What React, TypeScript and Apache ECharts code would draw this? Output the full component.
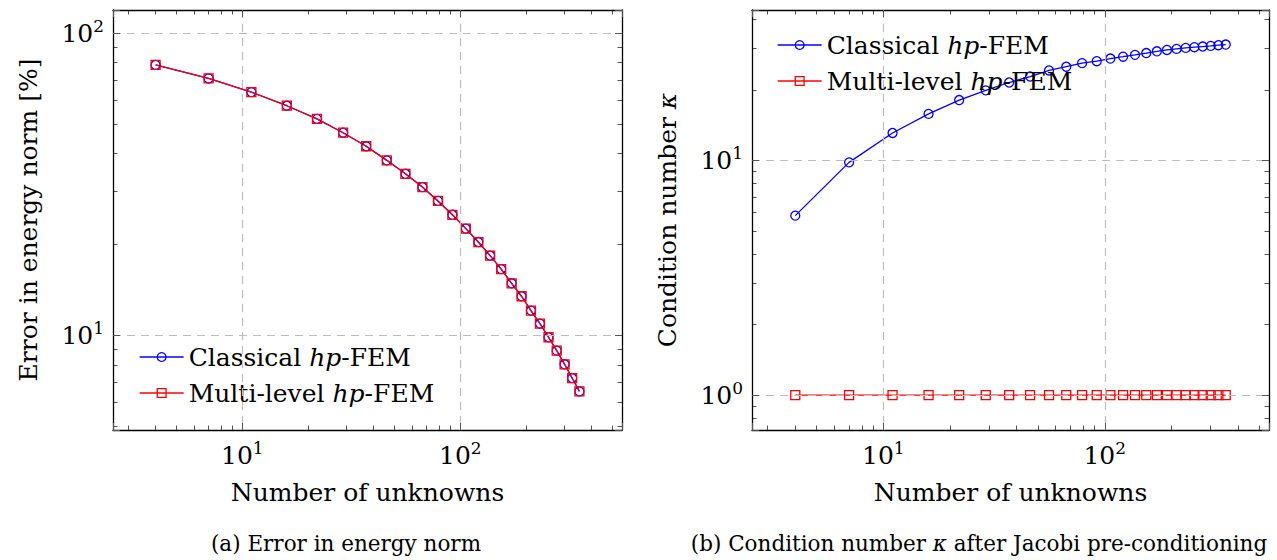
import React, { useEffect, useRef } from 'react';
import * as echarts from 'echarts';

// ---- data ----
const unknowns = [4, 7, 11, 16, 22, 29, 37, 46, 56, 67, 79, 92, 106, 121, 137, 154, 172, 191, 211, 232, 254, 277, 301, 326, 352];
const errorClassical = [78.6, 70.9, 63.9, 57.6, 52.1, 46.9, 42.3, 38.0, 34.3, 31.0, 27.9, 25.1, 22.6, 20.4, 18.4, 16.6, 14.9, 13.5, 12.1, 10.96, 9.88, 8.92, 8.04, 7.24, 6.54];
const errorMultilevel = [78.6, 70.9, 63.9, 57.6, 52.1, 46.9, 42.3, 38.0, 34.3, 31.0, 27.9, 25.1, 22.6, 20.4, 18.4, 16.6, 14.9, 13.5, 12.1, 10.96, 9.88, 8.92, 8.04, 7.24, 6.54];
const condClassical = [5.82, 9.82, 13.1, 15.8, 18.1, 19.9, 21.5, 22.8, 24.2, 25.1, 26.0, 26.5, 27.2, 27.7, 28.2, 28.7, 29.2, 29.6, 29.9, 30.2, 30.4, 30.6, 30.8, 31.0, 31.2];
const condMultilevel = [1, 1, 1, 1, 1, 1, 1, 1, 1, 1, 1, 1, 1, 1, 1, 1, 1, 1, 1, 1, 1, 1, 1, 1, 1];

const seriesNames = ['Classical hp-FEM', 'Multi-level hp-FEM'];
const xMinorTicks = [3, 4, 5, 6, 7, 8, 9, 20, 30, 40, 50, 60, 70, 80, 90, 200, 300, 400, 500];
const errMinorTicks = [5, 6, 7, 8, 9, 20, 30, 40, 50, 60, 70, 80, 90];
const condMinorTicks = [0.8, 0.9, 2, 3, 4, 5, 6, 7, 8, 9, 20, 30, 40];

const xRange = [2.55, 552];
const errRange = [4.875, 119.4];
const condRange = [0.71, 43.8];

const FONT = '"DejaVu Serif", serif';
const FS = 25;
const LFS = 25;
const CFS = 21.5;
const BLUE = '#0000ff';
const RED = '#ff0000';

function supLabel(v: number) {
  const e = Math.log10(v);
  const r = Math.round(e);
  if (Math.abs(e - r) > 1e-6) return '';
  return `{b|10}{s|${r}}`;
}

const labelRich = {
  b: { fontFamily: FONT, fontSize: FS, color: '#000', lineHeight: 32 },
  s: { fontFamily: FONT, fontSize: 17, color: '#000', verticalAlign: 'top', lineHeight: 17 },
};

const gridLine = { color: '#bdbdbd', width: 1.2, type: [8, 6] };
const tickLine = { color: '#555', width: 1 };
const frameLine = { color: '#000', width: 1.3 };
const nameStyle = { fontFamily: FONT, fontSize: FS, color: '#000', rich: { i: { fontFamily: FONT, fontSize: FS, fontStyle: 'italic', color: '#000' } } };

function axisSet(kind: 'x' | 'y', gridIndex: number, range: number[], minors: number[], name: string, nameGap: number) {
  const base: any = { type: 'log', logBase: 10, min: range[0], max: range[1], gridIndex };
  const p1 = kind === 'x' ? 'bottom' : 'left';
  const p2 = kind === 'x' ? 'top' : 'right';
  return [
    {
      ...base, position: p1,
      axisLine: { show: true, onZero: false, lineStyle: frameLine },
      axisTick: { show: true, inside: true, length: 7, lineStyle: tickLine },
      axisLabel: { formatter: supLabel, margin: 9, rich: labelRich, interval: 0 },
      splitLine: { show: true, showMinLine: false, showMaxLine: false, lineStyle: gridLine },
      name, nameLocation: 'middle', nameGap, nameRotate: kind === 'y' ? 90 : 0, nameTextStyle: nameStyle,
      z: 5,
    },
    {
      ...base, position: p1,
      axisLine: { show: false },
      axisTick: { show: true, inside: true, length: 4.5, customValues: minors, lineStyle: tickLine },
      axisLabel: { show: false },
      splitLine: { show: false },
    },
    {
      ...base, position: p2,
      axisLine: { show: true, onZero: false, lineStyle: frameLine },
      axisTick: { show: true, inside: true, length: 7, lineStyle: tickLine },
      axisLabel: { show: false },
      splitLine: { show: false },
      z: 5,
    },
    {
      ...base, position: p2,
      axisLine: { show: false },
      axisTick: { show: true, inside: true, length: 4.5, customValues: minors, lineStyle: tickLine },
      axisLabel: { show: false },
      splitLine: { show: false },
    },
  ];
}

function lineSeries(name: string, xi: number, yi: number, ys: number[], color: string, symbol: string) {
  return {
    type: 'line', name, xAxisIndex: xi, yAxisIndex: yi,
    data: unknowns.map((x, i) => [x, ys[i]]),
    symbol, symbolSize: 9, showSymbol: true,
    lineStyle: { color, width: 1.3 },
    itemStyle: { color: 'rgba(0,0,0,0)', borderColor: color, borderWidth: 1.3 },
    emphasis: { disabled: true },
  };
}

function legendData() {
  return [
    { name: seriesNames[0], itemStyle: { color: 'rgba(0,0,0,0)', borderColor: BLUE, borderWidth: 1.3 }, lineStyle: { color: BLUE, width: 1.3 } },
    { name: seriesNames[1], itemStyle: { color: 'rgba(0,0,0,0)', borderColor: RED, borderWidth: 1.3 }, lineStyle: { color: RED, width: 1.3 } },
  ];
}

const legendCommon = {
  orient: 'vertical', itemWidth: 44, itemHeight: 11, itemGap: 8, padding: 0,
  formatter: (n: string) => n.replace('hp', '{i|hp}'),
  textStyle: { fontFamily: FONT, fontSize: LFS, color: '#000', lineHeight: 28, rich: { i: { fontFamily: FONT, fontSize: LFS, fontStyle: 'italic', color: '#000', lineHeight: 28 } } },
  selectedMode: false,
};

export default function App() {
  const ref = useRef<HTMLDivElement>(null);
  useEffect(() => {
    if (!ref.current) return;
    const chart = echarts.init(ref.current, undefined, { renderer: 'svg' });
    const option: any = {
      animation: false,
      backgroundColor: '#fff',
      grid: [
        { left: 113, top: 10, width: 509, height: 420 },
        { left: 752, top: 10, width: 517, height: 420 },
      ],
      xAxis: [
        ...axisSet('x', 0, xRange, xMinorTicks, 'Number of unknowns', 50),
        ...axisSet('x', 1, xRange, xMinorTicks, 'Number of unknowns', 50),
      ],
      yAxis: [
        ...axisSet('y', 0, errRange, errMinorTicks, 'Error in energy norm [%]', 72),
        ...axisSet('y', 1, condRange, condMinorTicks, 'Condition number {i|κ}', 72),
      ],
      legend: [
        { ...legendCommon, left: 139, top: 343, data: legendData() },
        { ...legendCommon, left: 777, top: 31, data: legendData() },
      ],
      series: [
        lineSeries(seriesNames[0], 0, 0, errorClassical, BLUE, 'circle'),
        lineSeries(seriesNames[1], 0, 0, errorMultilevel, RED, 'rect'),
        lineSeries(seriesNames[0], 4, 4, condClassical, BLUE, 'circle'),
        lineSeries(seriesNames[1], 4, 4, condMultilevel, RED, 'rect'),
      ],
      graphic: [
        {
          type: 'text', x: 346, y: 543,
          style: { text: '(a) Error in energy norm', font: `${CFS}px ${FONT}`, fill: '#000', textAlign: 'center', textVerticalAlign: 'middle' },
        },
        {
          type: 'text', x: 979, y: 543,
          style: {
            text: '(b) Condition number {i|κ} after Jacobi pre-conditioning', font: `${CFS}px ${FONT}`, fill: '#000', textAlign: 'center', textVerticalAlign: 'middle',
            rich: { i: { fontFamily: FONT, fontSize: CFS, fontStyle: 'italic', fill: '#000' } },
          },
        },
      ],
    };
    chart.setOption(option);
    return () => chart.dispose();
  }, []);
  return <div ref={ref} style={{ position: 'absolute', left: 0, top: 0, width: 1277, height: 560 }} />;
}
